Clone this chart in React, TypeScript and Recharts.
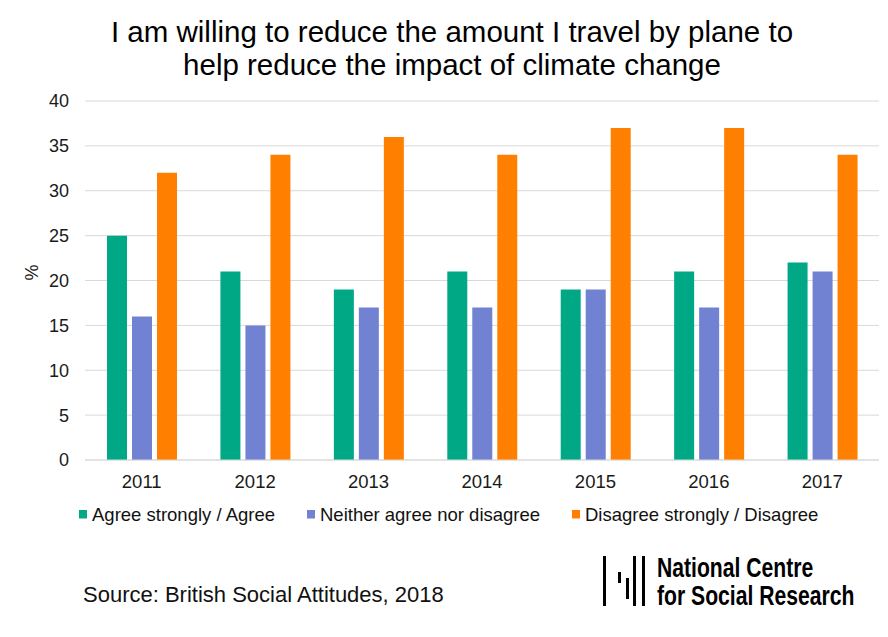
import React from "react";
import { BarChart, Bar, XAxis, YAxis, CartesianGrid, Label } from "recharts";

const years = ["2011", "2012", "2013", "2014", "2015", "2016", "2017"];
const agree = [25, 21, 19, 21, 19, 21, 22];
const neither = [16, 15, 17, 17, 19, 17, 21];
const disagree = [32, 34, 36, 34, 37, 37, 34];
const yTicks = [0, 5, 10, 15, 20, 25, 30, 35, 40];
const seriesNames = ["Agree strongly / Agree", "Neither agree nor disagree", "Disagree strongly / Disagree"];
const colors = ["#00a886", "#7282d2", "#ff8000"];
const titleLines = ["I am willing to reduce the amount I travel by plane to", "help reduce the impact of climate change"];
const sourceText = "Source: British Social Attitudes, 2018";
const logoLines = ["National Centre", "for Social Research"];

const data = years.map((y, i) => ({ year: y, agree: agree[i], neither: neither[i], disagree: disagree[i] }));

const FONT = "'Liberation Sans', Arial, sans-serif";
const legendX = [79, 307, 572];

export default function App() {
  return (
    <div style={{ position: "absolute", left: 0, top: 0, width: 888, height: 637, background: "#fff" }}>
      <BarChart
        width={888}
        height={637}
        data={data}
        margin={{ top: 101, right: 9, left: 0, bottom: 147 }}
        barGap={5}
        barSize={20}
      >
        <CartesianGrid vertical={false} stroke="#d9d9d9" />
        <XAxis
          dataKey="year"
          tickLine={false}
          axisLine={{ stroke: "#d9d9d9" }}
          tickSize={0}
          tickMargin={15}
          height={30}
          tick={{ fontFamily: FONT, fontSize: 18.5, fill: "#1a1a1a" }}
        />
        <YAxis
          domain={[0, 40]}
          ticks={yTicks}
          width={85}
          tickLine={false}
          axisLine={false}
          tickSize={0}
          tickMargin={16}
          interval={0}
          tick={{ fontFamily: FONT, fontSize: 18, fill: "#1a1a1a" }}
        >
          <Label value="%" angle={-90} position="insideLeft" offset={32} style={{ fontFamily: FONT, fontSize: 18, fill: "#1a1a1a" }} />
        </YAxis>
        <Bar dataKey="agree" name={seriesNames[0]} fill={colors[0]} isAnimationActive={false} />
        <Bar dataKey="neither" name={seriesNames[1]} fill={colors[1]} isAnimationActive={false} />
        <Bar dataKey="disagree" name={seriesNames[2]} fill={colors[2]} isAnimationActive={false} />
      </BarChart>
      <svg style={{ position: "absolute", left: 0, top: 0, pointerEvents: "none" }} width={888} height={637}>
        <text x={452} y={42} textAnchor="middle" fontFamily={FONT} fontSize={29.5} fill="#000">{titleLines[0]}</text>
        <text x={452} y={75} textAnchor="middle" fontFamily={FONT} fontSize={29.5} fill="#000">{titleLines[1]}</text>
        {seriesNames.map((n, i) => (
          <g key={n}>
            <rect x={legendX[i]} y={510} width={8} height={8.5} fill={colors[i]} />
            <text x={legendX[i] + 13} y={520.5} fontFamily={FONT} fontSize={18.5} fill="#111">{n}</text>
          </g>
        ))}
        <text x={83} y={601.5} fontFamily={FONT} fontSize={22} fill="#111">{sourceText}</text>
        <g transform="translate(590,540)">
          <rect x={13} y={16} width={3} height={50} fill="#000" />
          <rect x={28} y={32} width={3} height={11} fill="#000" />
          <rect x={36} y={38} width={3} height={21} fill="#000" />
          <rect x={43} y={16} width={3} height={50} fill="#000" />
          <rect x={52} y={16} width={3} height={50} fill="#000" />
          <g transform="translate(67,0) scale(0.755,1)">
            <text x={0} y={37} fontFamily={FONT} fontWeight="bold" fontSize={28} fill="#000">{logoLines[0]}</text>
            <text x={0} y={65} fontFamily={FONT} fontWeight="bold" fontSize={28} fill="#000">{logoLines[1]}</text>
          </g>
        </g>
      </svg>
    </div>
  );
}
